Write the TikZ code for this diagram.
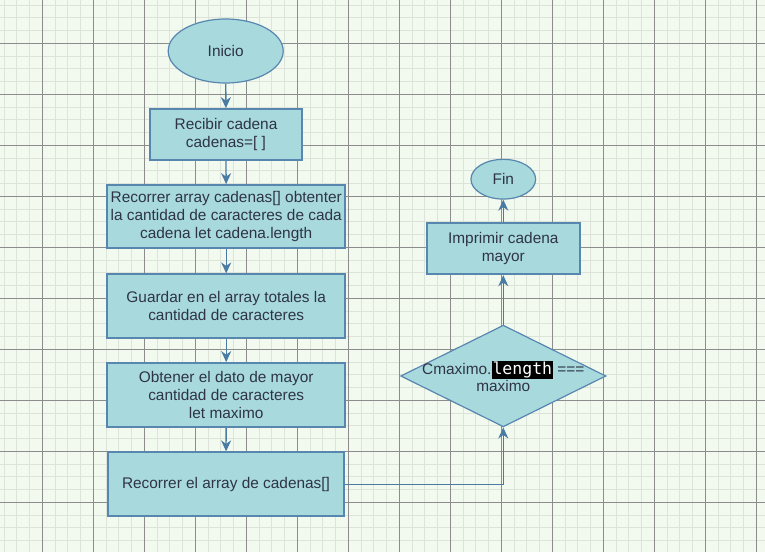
\documentclass[tikz,border=0pt]{standalone}
\usepackage{fontspec}
\setmainfont{Liberation Sans}
\setmonofont{DejaVu Sans Mono}
\usetikzlibrary{shapes.geometric,arrows.meta}

\definecolor{paper}{HTML}{F2F9EF}
\definecolor{gridminor}{HTML}{DCE3D9}
\definecolor{gridmajor}{HTML}{8C8C8C}
\definecolor{boxfill}{HTML}{A8D9DC}
\definecolor{boxline}{HTML}{5787AE}
\definecolor{linkline}{HTML}{4A7CA3}
\definecolor{ink}{HTML}{2E3446}

% inline code with a dark highlight
\newcommand{\codemark}[1]{{\setlength{\fboxsep}{0pt}\colorbox{black}{\rule[-4.5pt]{0pt}{17.5pt}\kern1pt\textcolor{white}{\fontsize{16.5}{18}\ttfamily #1}\kern1pt}}}

\tikzset{
  x=1pt, y=-1pt,
  every node/.style={font=\fontsize{15.4}{17.7}\selectfont, text=ink},
  stepbox/.style={draw=boxline, fill=boxfill, line width=1.8pt, inner sep=0pt, align=center},
  terminal/.style={ellipse, draw=boxline, fill=boxfill, line width=1.2pt, inner sep=0pt},
  decision/.style={diamond, draw=boxline, fill=boxfill, line width=1.2pt, inner sep=0pt},
  link/.style={draw=linkline, line width=1.3pt, -{Stealth[length=11pt,width=10pt,inset=3.5pt]}},
  minorline/.style={draw=gridminor, line width=1pt},
  majorline/.style={draw=gridmajor, line width=0.9pt},
}

\begin{document}
\begin{tikzpicture}
\useasboundingbox (0,0) rectangle (765,552);
\fill[paper] (0,0) rectangle (765,552);

% background grid: fine lines every 12.75, heavy lines every 51
\foreach \i in {0,...,60}{
  \draw[minorline] ({4.05+12.75*\i},0) -- ({4.05+12.75*\i},552);
}
\foreach \i in {0,...,43}{
  \draw[minorline] (0,{5.05+12.75*\i}) -- (765,{5.05+12.75*\i});
}
\foreach \i in {0,...,14}{
  \draw[majorline] ({42.3+51*\i},0) -- ({42.3+51*\i},552);
}
\foreach \i in {0,...,10}{
  \draw[majorline] (0,{43.3+51*\i}) -- (765,{43.3+51*\i});
}

% left column
\node[terminal, minimum width=115pt, minimum height=64pt] (ini) at (225.7,51) {Inicio};
\node[stepbox, minimum width=152pt, minimum height=51pt] (recibir) at (226,134.5) {Recibir cadena\\cadenas=[ ]};
\node[stepbox, minimum width=237.7pt, minimum height=63.3pt] (recorrer) at (226.2,216.7)
  {Recorrer array cadenas[] obtenter\\la cantidad de caracteres de cada\\cadena let cadena.length};
\node[stepbox, minimum width=237.7pt, minimum height=63.4pt] (guardar) at (226.2,306)
  {Guardar en el array totales la\\cantidad de caracteres};
\node[stepbox, minimum width=237.7pt, minimum height=64pt] (obtener) at (226.2,395)
  {Obtener el dato de mayor\\cantidad de caracteres\\let maximo};
\node[stepbox, minimum width=236.6pt, minimum height=64pt] (buscar) at (226,484.3)
  {Recorrer el array de cadenas[]};

% right column
\node[decision, minimum width=205.3pt, minimum height=101.7pt] (cond) at (503.3,376) {};
\node[align=center, inner sep=0pt] (condtext) at (503.3,376.5) {Cmaximo.\codemark{length} ===\\maximo};
\node[stepbox, minimum width=153.3pt, minimum height=51.6pt] (imprimir) at (503.3,248.5) {Imprimir cadena\\mayor};
\node[terminal, minimum width=64.7pt, minimum height=39.7pt] (fin) at (503.3,179.2) {Fin};

% connectors
\draw[link] (ini) -- (recibir);
\draw[link] (recibir) -- (recorrer);
\draw[link] (recorrer) -- (guardar);
\draw[link] (guardar) -- (obtener);
\draw[link] (obtener) -- (buscar);
\draw[link] (buscar.east) -| (cond.south);
\draw[link] (cond.north) -- (imprimir.south);
\draw[link] (imprimir.north) -- (fin.south);
\end{tikzpicture}
\end{document}
